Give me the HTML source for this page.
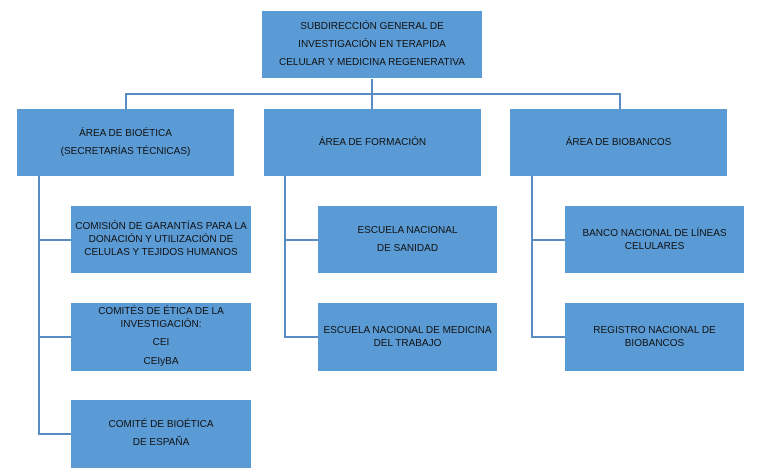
<!DOCTYPE html>
<html><head><meta charset="utf-8"><style>
body{margin:0;width:763px;height:476px;background:#fff;position:relative;overflow:hidden;font-family:"Liberation Sans",sans-serif;}
.b{position:absolute;background:#5b9bd5;color:#111;font-size:10px;display:flex;align-items:center;justify-content:center;text-align:center;box-sizing:border-box;}
.l{position:absolute;background:#5a8cc4;}
</style></head><body>
<div class="l" style="left:371px;top:79px;width:1.5px;height:30px"></div>
<div class="l" style="left:125px;top:93px;width:495px;height:1.5px"></div>
<div class="l" style="left:125px;top:93px;width:1.5px;height:16px"></div>
<div class="l" style="left:619px;top:93px;width:1.5px;height:16px"></div>
<div class="l" style="left:38px;top:176px;width:1.5px;height:259px"></div>
<div class="l" style="left:38px;top:239px;width:33px;height:1.5px"></div>
<div class="l" style="left:38px;top:336px;width:33px;height:1.5px"></div>
<div class="l" style="left:38px;top:433px;width:33px;height:1.5px"></div>
<div class="l" style="left:284px;top:176px;width:1.5px;height:161px"></div>
<div class="l" style="left:284px;top:239px;width:34px;height:1.5px"></div>
<div class="l" style="left:284px;top:336px;width:34px;height:1.5px"></div>
<div class="l" style="left:531px;top:176px;width:1.5px;height:161px"></div>
<div class="l" style="left:531px;top:239px;width:34px;height:1.5px"></div>
<div class="l" style="left:531px;top:336px;width:34px;height:1.5px"></div>

<div class="b" style="left:262px;top:11px;width:220px;height:67px;line-height:18px">SUBDIRECCIÓN GENERAL DE<br>INVESTIGACIÓN EN TERAPIDA<br>CELULAR Y MEDICINA REGENERATIVA</div>
<div class="b" style="left:17px;top:109px;width:217px;height:67px;line-height:18px">ÁREA DE BIOÉTICA<br>(SECRETARÍAS TÉCNICAS)</div>
<div class="b" style="left:264px;top:109px;width:217px;height:67px">ÁREA DE FORMACIÓN</div>
<div class="b" style="left:510px;top:109px;width:217px;height:67px">ÁREA DE BIOBANCOS</div>

<div class="b" style="left:71px;top:206px;width:180px;height:67px;line-height:13px">COMISIÓN DE GARANTÍAS PARA LA<br>DONACIÓN Y UTILIZACIÓN DE<br>CELULAS Y TEJIDOS HUMANOS</div>
<div class="b" style="left:71px;top:303px;width:180px;height:68px;line-height:13px;display:block;padding-top:2px">COMITÉS DE ÉTICA DE LA<br>INVESTIGACIÓN:<br><span style="line-height:24px">CEI</span><br><span style="line-height:14px">CEIyBA</span></div>
<div class="b" style="left:71px;top:400px;width:180px;height:68px;line-height:18px">COMITÉ DE BIOÉTICA<br>DE ESPAÑA</div>

<div class="b" style="left:318px;top:206px;width:179px;height:67px;line-height:18px">ESCUELA NACIONAL<br>DE SANIDAD</div>
<div class="b" style="left:318px;top:303px;width:179px;height:68px;line-height:13px">ESCUELA NACIONAL DE MEDICINA<br>DEL TRABAJO</div>

<div class="b" style="left:565px;top:206px;width:179px;height:67px;line-height:13px">BANCO NACIONAL DE LÍNEAS<br>CELULARES</div>
<div class="b" style="left:565px;top:303px;width:179px;height:68px;line-height:13px">REGISTRO NACIONAL DE<br>BIOBANCOS</div>
</body></html>
